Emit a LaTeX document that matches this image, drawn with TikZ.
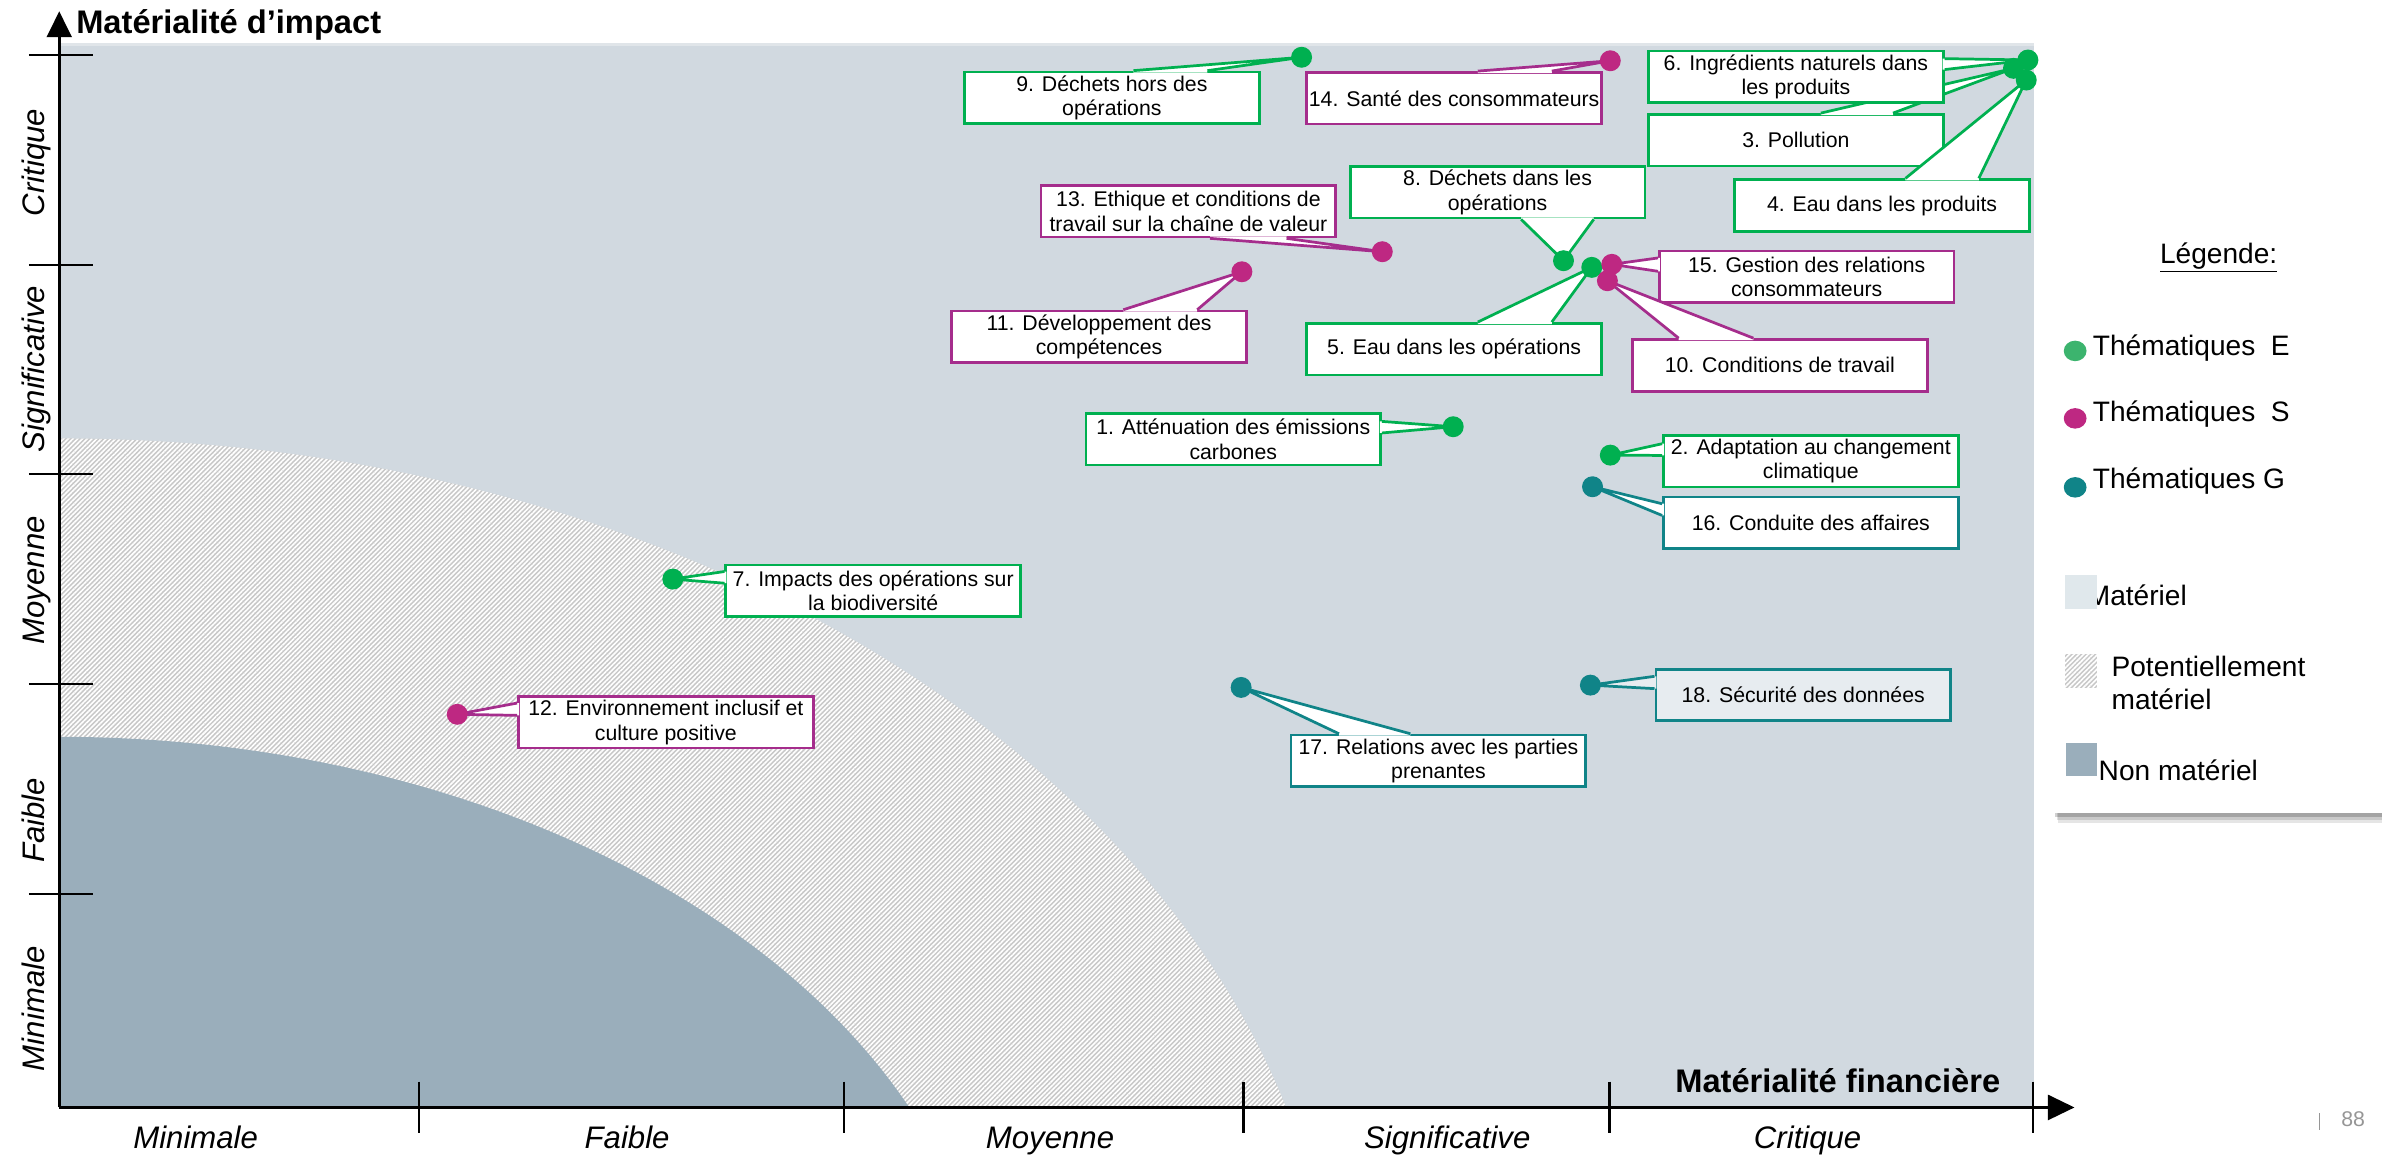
\documentclass[tikz,border=0pt]{standalone}
\usepackage{fontspec}
\setmainfont{Liberation Sans}
\usetikzlibrary{calc,shapes.geometric,patterns.meta}
\definecolor{plotbg}{RGB}{209,217,224}
\definecolor{plottop}{RGB}{224,229,233}
\definecolor{nonmat}{RGB}{154,174,187}
\definecolor{hatchbase}{RGB}{200,200,200}
\definecolor{matsq}{RGB}{224,232,236}
\definecolor{gE}{RGB}{0,176,80}
\definecolor{dS}{RGB}{190,40,130}
\definecolor{bS}{RGB}{165,45,140}
\definecolor{tG}{RGB}{16,132,136}
\definecolor{lgE}{RGB}{60,180,110}
\definecolor{pgnum}{RGB}{150,150,150}
\definecolor{fillB}{RGB}{231,236,240}
\newcommand\mywedge[6]{%
  \fill[white] ($(#2)+(#3)+(#5)$) -- ($(#2)+(#3)$) -- (#6) -- ($(#2)+(#4)$) -- ($(#2)+(#4)+(#5)$) -- cycle;
  \draw[#1] ($(#2)+(#3)$) -- (#6) -- ($(#2)+(#4)$);
}
\tikzset{
  lbl/.style={draw, fill=white, line width=1.8pt, minimum width=194pt, minimum height=34pt,
    inner sep=0pt, align=center, font=\fontsize{14}{16.2}\selectfont},
  lblE/.style={lbl, draw=gE},
  lblS/.style={lbl, draw=bS},
  lblG/.style={lbl, draw=tG},
  wE/.style={draw=gE, line width=1.8pt, line join=round},
  wS/.style={draw=bS, line width=1.8pt, line join=round},
  wG/.style={draw=tG, line width=1.8pt, line join=round},
  dotbase/.style={circle, minimum size=13.8pt, inner sep=0pt},
  dotE/.style={dotbase, fill=gE},
  dotS/.style={dotbase, fill=dS},
  dotG/.style={dotbase, fill=tG},
  ldot/.style={ellipse, minimum width=15pt, minimum height=13.5pt, inner sep=0pt},
  axlab/.style={font=\fontsize{20.5}{24}\selectfont\itshape, inner sep=0pt, anchor=base},
  axtitle/.style={font=\fontsize{21.5}{25}\selectfont\bfseries, inner sep=0pt, anchor=base west},
  legtxt/.style={font=\fontsize{18.5}{21.8}\selectfont, inner sep=0pt, anchor=base west, align=left},
  tickline/.style={line width=1.6pt},
  hatchfill/.style={pattern={Lines[angle=45,distance=2.2pt,line width=1.05pt]}, pattern color=white}
}
\begin{document}
\begin{tikzpicture}[x=1pt, y=-1pt]
\useasboundingbox (0,0) rectangle (1568,760);
\fill[white] (0,0) rectangle (1568,760);

% plot background and regions
\fill[plotbg] (39,28) rectangle (1339,729);
\fill[plottop] (39,28) rectangle (1339,30.5);
\begin{scope}
  \clip (39,28) rectangle (1339,729);
  \fill[hatchbase] (38,900) ellipse [x radius=842, y radius=611.4];
  \fill[hatchfill] (38,900) ellipse [x radius=842, y radius=611.4];
  \fill[nonmat] (38,900) ellipse [x radius=615, y radius=415];
\end{scope}

% axes
\draw[line width=2pt] (39,729) -- (39,24);
\fill (39,7.5) -- (30.6,24.5) -- (47.4,24.5) -- cycle;
\draw[line width=2pt] (39,729) -- (1349,729);
\fill (1365.5,729) -- (1348,720.5) -- (1348,737.5) -- cycle;
\foreach \yy in {36.2,174.5,312,450.3,588.5} \draw[tickline] (19,\yy) -- (61,\yy);
\foreach \xx in {275.7,555.7,818.5,1059.4,1338.2} \draw[tickline] (\xx,712) -- (\xx,746);

\node[axtitle] (ytitle) at (50,22) {Matérialité d’impact};
\node[axtitle] (xtitle) at (1102.6,719) {Matérialité financière};

\node[axlab, rotate=90] (yl1) at (29.5,107) {Critique};
\node[axlab, rotate=90] (yl2) at (29.5,243) {Significative};
\node[axlab, rotate=90] (yl3) at (29.5,382) {Moyenne};
\node[axlab, rotate=90] (yl4) at (29.5,540) {Faible};
\node[axlab, rotate=90] (yl5) at (29.5,664) {Minimale};

\node[axlab] (xl1) at (128.8,756) {Minimale};
\node[axlab] (xl2) at (412.8,756) {Faible};
\node[axlab] (xl3) at (691.2,756) {Moyenne};
\node[axlab] (xl4) at (952.7,756) {Significative};
\node[axlab] (xl5) at (1189.9,756) {Critique};

% dot centres
\coordinate (d1) at (956.6,280.9);
\coordinate (d2) at (1060,299.6);
\coordinate (d3) at (1325.4,45);
\coordinate (d4) at (1333.8,52.7);
\coordinate (d5) at (1047.8,176);
\coordinate (d6) at (1334.9,39.5);
\coordinate (d7) at (442.9,381.2);
\coordinate (d8) at (1029.2,171.6);
\coordinate (d9) at (856.8,37.7);
\coordinate (d10) at (1058.1,184.8);
\coordinate (d11) at (817.5,178.9);
\coordinate (d12) at (301,470.2);
\coordinate (d13) at (909.9,165.7);
\coordinate (d14) at (1060,40);
\coordinate (d15) at (1061,174);
\coordinate (d16) at (1048.3,320.4);
\coordinate (d17) at (817,452.5);
\coordinate (d18) at (1046.9,451);

% callouts
\node[lblE] (b3) at (1182.2,92.35) {3. Pollution};
\mywedge{wE}{b3.north west}{114.3,0}{161.8,0}{0,1.3}{d3}
\node[lblE] (b4) at (1238.9,135.3) {4. Eau dans les produits};
\mywedge{wE}{b4.north west}{113.3,0}{161.6,0}{0,1.3}{d4}
\node[lblE] (b6) at (1182.2,50.6) {6. Ingrédients naturels dans\\les produits};
\mywedge{wE}{b6.north east}{0,5.9}{0,13.1}{-1.3,0}{d6}

\node[lblE] (b1) at (811.8,289.1) {1. Atténuation des émissions\\carbones};
\mywedge{wE}{b1.north east}{0,6.2}{0,13.8}{-1.3,0}{d1}
\node[lblE] (b2) at (1192,303.5) {2. Adaptation au changement\\climatique};
\mywedge{wE}{b2.north west}{0,6.5}{0,14.2}{1.3,0}{d2}
\node[lblE] (b5) at (957.2,229.9) {5. Eau dans les opérations};
\mywedge{wE}{b5.north west}{113.5,0}{162.2,0}{0,1.3}{d5}
\node[lblE] (b7) at (574.8,389) {7. Impacts des opérations sur\\la biodiversité};
\mywedge{wE}{b7.north west}{0,5.1}{0,12.8}{1.3,0}{d7}
\node[lblE] (b8) at (985.8,126.5) {8. Déchets dans les\\opérations};
\mywedge{wE}{b8.south west}{113.4,0}{161.2,0}{0,-1.3}{d8}
\node[lblE] (b9) at (731.9,64.4) {9. Déchets hors des\\opérations};
\mywedge{wE}{b9.north west}{112.1,0}{160.8,0}{0,1.3}{d9}

\node[lblS] (b15) at (1189.3,182.3) {15. Gestion des relations\\consommateurs};
\mywedge{wS}{b15.north west}{0,5.4}{0,14.2}{1.3,0}{d15}
\node[lblS] (b10) at (1171.6,240.5) {10. Conditions de travail};
\mywedge{wS}{b10.north west}{31.3,0}{80.5,0}{0,1.3}{d10}
\node[lblS] (b11) at (723.5,221.8) {11. Développement des\\compétences};
\mywedge{wS}{b11.north west}{113.8,0}{162.5,0}{0,1.3}{d11}
\node[lblS] (b12) at (438.3,475.4) {12. Environnement inclusif et\\culture positive};
\mywedge{wS}{b12.north west}{0,5.3}{0,13.4}{1.3,0}{d12}
\node[lblS] (b13) at (782.3,139) {13. Ethique et conditions de\\travail sur la chaîne de valeur};
\mywedge{wS}{b13.south west}{112.1,0}{162.5,0}{0,-1.3}{d13}
\node[lblS] (b14) at (957.2,64.7) {14. Santé des consommateurs};
\mywedge{wS}{b14.north west}{113.5,0}{162.2,0}{0,1.3}{d14}

\node[lblG] (b16) at (1192,344.2) {16. Conduite des affaires};
\mywedge{wG}{b16.north west}{0,5.3}{0,13}{1.3,0}{d16}
\node[lblG] (b17) at (946.9,500.9) {17. Relations avec les parties\\prenantes};
\mywedge{wG}{b17.north west}{32.4,0}{79.4,0}{0,1.3}{d17}
\node[lblG, fill=fillB] (b18) at (1187,457.5) {18. Sécurité des données};
\fill[fillB] ($(b18.north west)+(1.3,5.6)$) -- ($(b18.north west)+(0,5.6)$) -- (d18) -- ($(b18.north west)+(0,13.7)$) -- ($(b18.north west)+(1.3,13.7)$) -- cycle;
\draw[wG] ($(b18.north west)+(0,5.6)$) -- (d18) -- ($(b18.north west)+(0,13.7)$);

% dots
\foreach \i in {1,2,7,8,9,5,6,3,4} \node[dotE] (p\i) at (d\i) {};
\foreach \i in {11,12,13,14,15,10} \node[dotS] (p\i) at (d\i) {};
\foreach \i in {16,17,18} \node[dotG] (p\i) at (d\i) {};

% legend
\fill[black, opacity=0.10] (1355,535) rectangle (1568,542);
\fill[black, opacity=0.12] (1354,535) rectangle (1568,539.5);
\fill[black, opacity=0.18] (1353,535) rectangle (1568,537.5);
\node[fill=white, inner sep=0pt, minimum width=220pt, minimum height=388pt, anchor=north west] (leg) at (1351,147) {};
\node[legtxt, anchor=base] (legt) at (1460.5,173.4) {\underline{Légende:}};
\node[ldot, fill=lgE] (lde) at (1366,231) {};
\node[legtxt] (lte) at (1377.5,233.7) {Thématiques\hspace{0.55em}E};
\node[ldot, fill=dS] (lds) at (1366,275.4) {};
\node[legtxt] (lts) at (1377.5,277.6) {Thématiques\hspace{0.55em}S};
\node[ldot, fill=tG] (ldg) at (1366,320.8) {};
\node[legtxt] (ltg) at (1377.5,321.5) {Thématiques G};
\node[legtxt] (ltm) at (1373.5,398.3) {Matériel};
\node[fill=matsq, inner sep=0pt, minimum width=21.5pt, minimum height=22.4pt, anchor=north west] (sqm) at (1358.8,378.6) {};
\node[fill=hatchbase, inner sep=0pt, minimum width=21.5pt, minimum height=22.4pt, anchor=north west] (sqp) at (1358.8,430) {};
\fill[hatchfill] (sqp.north west) rectangle (sqp.south east);
\node[legtxt] (ltp) at (1389.8,445) {Potentiellement};
\node[legtxt] (ltp2) at (1389.8,466.8) {matériel};
\node[fill=nonmat, inner sep=0pt, minimum width=20.4pt, minimum height=22pt, anchor=north west] (sqn) at (1359.9,488.8) {};
\node[legtxt] (ltn) at (1381.3,513.5) {Non matériel};

% page number
\draw[pgnum, line width=1pt] (1526.7,732.7) -- (1526.7,744);
\node[font=\fontsize{14}{16}\selectfont, text=pgnum, inner sep=0pt] (pg) at (1549,737) {88};
\end{tikzpicture}
\end{document}
